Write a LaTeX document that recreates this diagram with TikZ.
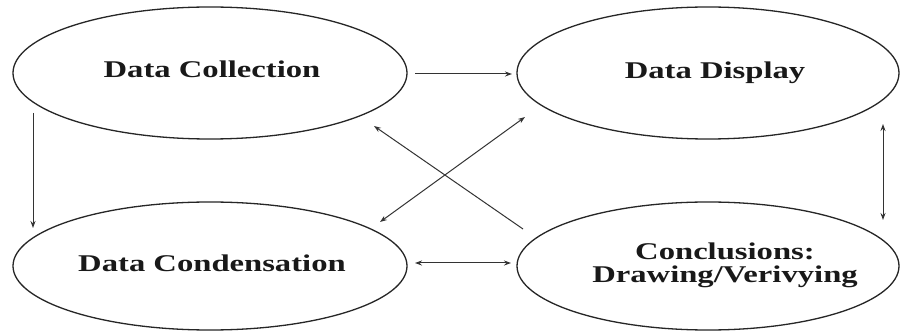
\documentclass[tikz,border=0pt]{standalone}
\usepackage{fontspec}
\newfontfamily\lblfont{Liberation Serif}[FakeStretch=1.36]
\usetikzlibrary{shapes.geometric,arrows.meta}
\begin{document}
\begin{tikzpicture}[x=1pt,y=-1pt,
  oval/.style={ellipse,draw=black!85,line width=1.3pt,inner sep=0pt},
  lbl/.style={font=\lblfont\bfseries\fontsize{24}{23}\selectfont,text=black!90,inner sep=0pt,anchor=base,align=center},
  conn/.style={draw=black!80,line width=1pt},
  tip/.style={-{Stealth[length=7pt,width=5pt]}},
  tips/.style={{Stealth[length=7pt,width=5pt]}-{Stealth[length=7pt,width=5pt]}}]
\useasboundingbox[fill=white] (0,0) rectangle (900,331);
\node[oval,minimum width=394pt,minimum height=132pt] (dc) at (210,73) {};
\node[oval,minimum width=382pt,minimum height=132pt] (dd) at (708,73) {};
\node[oval,minimum width=394pt,minimum height=128pt] (dn) at (210,266) {};
\node[oval,minimum width=382pt,minimum height=128pt] (cv) at (708,266) {};
\node[lbl] (tdc) at (212,78) {Data Collection};
\node[lbl] (tdd) at (715,79) {Data Display};
\node[lbl] (tdn) at (212,271.5) {Data Condensation};
\node[lbl] (tcv) at (725,283) {Conclusions:\\Drawing/Verivying};
\draw[conn,tip] ([shift={(205,1)}]dc.center) -- ([shift={(-196,1)}]dd.center);
\draw[conn,tip] ([shift={(-177,40)}]dc.center) -- ([shift={(-177,-38)}]dn.center);
\draw[conn,tips] ([shift={(205,-3)}]dn.center) -- ([shift={(-197,-3)}]cv.center);
\draw[conn,tips] ([shift={(175,51)}]dd.center) -- ([shift={(175,-46)}]cv.center);
\draw[conn,tip] ([shift={(-185,-37)}]cv.center) -- ([shift={(164,53)}]dc.center);
\draw[conn,tips] ([shift={(170,-44)}]dn.center) -- ([shift={(-183,44)}]dd.center);
\end{tikzpicture}
\end{document}
